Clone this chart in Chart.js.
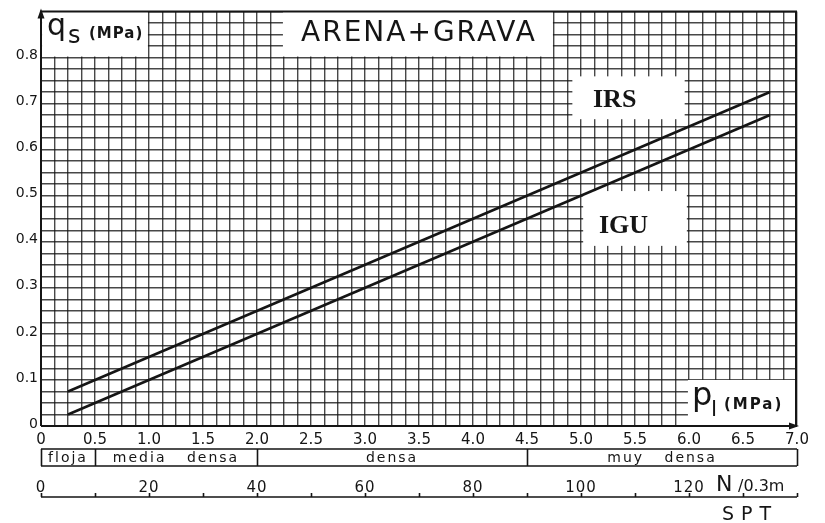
<!DOCTYPE html>
<html>
<head>
<meta charset="utf-8">
<script src="https://cdn.jsdelivr.net/npm/chart.js@4.4.1/dist/chart.umd.min.js"></script>
<style>
  html, body { margin: 0; padding: 0; background: #fff; }
  #wrap { width: 825px; height: 523px; position: relative; }
</style>
</head>
<body>
<div id="wrap"><canvas id="chart"></canvas></div>
<script>
// qs against pl, sand + gravel, two design curves
const PL_IRS = [0.25, 6.75];
const QS_IRS = [0.075, 0.725];
const PL_IGU = [0.25, 6.75];
const QS_IGU = [0.025, 0.675];

// axis ranges and graph-paper steps
const X_MIN = 0, X_MAX = 7.0, X_STEP = 0.125, X_LABEL_STEP = 0.5;
const Y_MIN = 0, Y_MAX = 0.9, Y_STEP = 0.025, Y_LABEL_STEP = 0.1, Y_LABEL_MAX = 0.8;

// compactness classes along pl
const BAND_EDGES = [0, 0.5, 2.0, 4.5, 7.0];
const BAND_NAMES = ['floja', 'media densa', 'densa', 'muy densa'];

// SPT scale (N per 0.3 m) under the pl axis
const N_MIN = 0, N_MAX = 140, N_MINOR = 10;
const N_LABELS = [0, 20, 40, 60, 80, 100, 120];

const INK = '#151515';
const FONT = '"DejaVu Sans", sans-serif';

const isMultiple = (v, step) => Math.abs(v / step - Math.round(v / step)) < 1e-6;

function toPoints(xs, ys) {
    return xs.map((v, i) => ({ x: v, y: ys[i] }));
}

// white label boxes, frame, arrows, band row and SPT scale
const notes = {
    id: 'notes',
    beforeDatasetsDraw(chart) {
        const { ctx, scales: { x, y } } = chart;
        const px = v => x.getPixelForValue(v);
        const py = v => y.getPixelForValue(v);
        const blank = (x0, x1, y0, y1) => {
            ctx.fillStyle = '#fff';
            ctx.fillRect(px(x0), py(y1), px(x1) - px(x0), py(y0) - py(y1));
        };
        ctx.save();
        blank(0.01, 0.99, 0.802, 0.9);   // qs label
        blank(2.24, 4.74, 0.802, 0.9);   // title
        blank(4.92, 5.96, 0.666, 0.759); // IRS
        blank(5.02, 5.98, 0.391, 0.51);  // IGU
        blank(5.99, 6.99, 0.0, 0.1);     // pl label

        ctx.fillStyle = INK;
        ctx.textBaseline = 'alphabetic';
        ctx.textAlign = 'left';

        // y axis name
        ctx.font = '30px ' + FONT;
        ctx.fillText('q', 47, 35);
        ctx.font = '24px ' + FONT;
        ctx.fillText('s', 68, 43);
        ctx.font = 'bold 15px ' + FONT;
        ctx.letterSpacing = '1px';
        ctx.fillText('(MPa)', 89, 38);
        ctx.letterSpacing = '0px';

        // title
        ctx.font = '28px ' + FONT;
        ctx.textAlign = 'center';
        ctx.letterSpacing = '2px';
        ctx.fillText('ARENA+GRAVA', (px(2.24) + px(4.74)) / 2 + 1, 41);
        ctx.letterSpacing = '0px';

        // curve names
        ctx.textAlign = 'left';
        ctx.font = 'bold 26px "Liberation Serif", serif';
        ctx.fillText('IRS', 593, 107);
        ctx.fillText('IGU', 599, 233);

        // x axis name
        ctx.font = '32px ' + FONT;
        ctx.fillText('p', 692, 405);
        ctx.font = '22px ' + FONT;
        ctx.fillText('l', 711, 416);
        ctx.font = 'bold 15px ' + FONT;
        ctx.letterSpacing = '2px';
        ctx.fillText('(MPa)', 724, 409);
        ctx.letterSpacing = '0px';
        ctx.restore();
    },
    afterDatasetsDraw(chart) {
        const { ctx, chartArea: a, scales: { x, n } } = chart;
        ctx.save();
        ctx.strokeStyle = INK;
        ctx.fillStyle = INK;
        ctx.lineWidth = 2;

        // frame
        ctx.beginPath();
        ctx.moveTo(a.left, a.bottom);
        ctx.lineTo(a.left, a.top);
        ctx.lineTo(a.right - 1, a.top);
        ctx.lineTo(a.right - 1, a.bottom);
        ctx.moveTo(a.left, a.bottom);
        ctx.lineTo(a.right, a.bottom);
        ctx.stroke();
        // arrow heads
        ctx.beginPath();
        ctx.moveTo(a.left, a.top - 3);
        ctx.lineTo(a.left - 3.5, a.top + 7);
        ctx.lineTo(a.left + 3.5, a.top + 7);
        ctx.closePath();
        ctx.fill();
        ctx.beginPath();
        ctx.moveTo(a.right + 2, a.bottom);
        ctx.lineTo(a.right - 8, a.bottom - 3.5);
        ctx.lineTo(a.right - 8, a.bottom + 3.5);
        ctx.closePath();
        ctx.fill();

        // compactness row
        const bandTop = 449, bandBottom = 466;
        ctx.lineWidth = 1.6;
        ctx.beginPath();
        ctx.moveTo(x.getPixelForValue(BAND_EDGES[0]), bandTop);
        ctx.lineTo(x.getPixelForValue(BAND_EDGES[BAND_EDGES.length - 1]), bandTop);
        ctx.moveTo(x.getPixelForValue(BAND_EDGES[0]), bandBottom);
        ctx.lineTo(x.getPixelForValue(BAND_EDGES[BAND_EDGES.length - 1]), bandBottom);
        BAND_EDGES.forEach(e => {
            const p = Math.round(x.getPixelForValue(e)) + 0.5;
            ctx.moveTo(p, bandTop);
            ctx.lineTo(p, bandBottom);
        });
        ctx.stroke();
        ctx.font = '14px ' + FONT;
        ctx.textAlign = 'center';
        ctx.letterSpacing = '2px';
        ctx.wordSpacing = '14px';
        BAND_NAMES.forEach((name, i) => {
            const mid = (BAND_EDGES[i] + BAND_EDGES[i + 1]) / 2;
            ctx.fillText(name, x.getPixelForValue(mid), 462);
        });
        ctx.wordSpacing = '0px';

        // SPT scale
        const nLine = 497;
        ctx.lineWidth = 1.6;
        ctx.beginPath();
        ctx.moveTo(n.getPixelForValue(N_MIN), nLine);
        ctx.lineTo(n.getPixelForValue(N_MAX), nLine);
        for (let v = N_MIN; v <= N_MAX; v += N_MINOR) {
            const p = Math.round(n.getPixelForValue(v)) + 0.5;
            ctx.moveTo(p, nLine);
            ctx.lineTo(p, nLine - 4);
        }
        ctx.stroke();
        ctx.font = '15px ' + FONT;
        ctx.letterSpacing = '1px';
        N_LABELS.forEach(v => ctx.fillText(String(v), n.getPixelForValue(v), 492));
        ctx.letterSpacing = '0px';

        ctx.textAlign = 'left';
        ctx.font = '22px ' + FONT;
        ctx.fillText('N', 716, 491);
        ctx.font = '16px ' + FONT;
        ctx.fillText('/0.3m', 738, 491);
        ctx.font = '19px ' + FONT;
        ctx.letterSpacing = '7px';
        ctx.fillText('SPT', 722, 520);
        ctx.restore();
    }
};

const gridStyle = { color: 'rgba(20,20,20,0.78)', lineWidth: 1.4, drawTicks: false };

new Chart(document.getElementById('chart'), {
    type: 'scatter',
    data: {
        datasets: [
            {
                label: 'IRS',
                data: toPoints(PL_IRS, QS_IRS),
                showLine: true,
                borderColor: INK,
                borderWidth: 2.6,
                pointRadius: 0
            },
            {
                label: 'IGU',
                data: toPoints(PL_IGU, QS_IGU),
                showLine: true,
                borderColor: INK,
                borderWidth: 2.6,
                pointRadius: 0
            }
        ]
    },
    options: {
        responsive: true,
        maintainAspectRatio: false,
        animation: false,
        layout: { padding: { top: 10, right: 28, bottom: 75, left: 0 } },
        plugins: { legend: { display: false }, tooltip: { enabled: false } },
        scales: {
            x: {
                type: 'linear',
                min: X_MIN,
                max: X_MAX,
                grid: gridStyle,
                border: { display: false },
                afterFit: s => { s.height = 22; },
                ticks: {
                    stepSize: X_STEP,
                    autoSkip: false,
                    maxRotation: 0,
                    minRotation: 0,
                    padding: 5,
                    color: INK,
                    font: { family: FONT, size: 15 },
                    callback: v => isMultiple(v, X_LABEL_STEP) ? (v === 0 ? '0' : v.toFixed(1)) : ''
                }
            },
            y: {
                min: Y_MIN,
                max: Y_MAX,
                grid: gridStyle,
                border: { display: false },
                afterFit: s => { s.width = 41; },
                ticks: {
                    stepSize: Y_STEP,
                    autoSkip: false,
                    padding: 3,
                    labelOffset: -2,
                    color: INK,
                    font: { family: FONT, size: 14 },
                    callback: v => (isMultiple(v, Y_LABEL_STEP) && v <= Y_LABEL_MAX + 1e-9) ? (v === 0 ? '0' : v.toFixed(1)) : ''
                }
            },
            n: {
                type: 'linear',
                axis: 'x',
                position: 'bottom',
                display: false,
                min: N_MIN,
                max: N_MAX
            }
        }
    },
    plugins: [notes]
});
</script>
</body>
</html>
